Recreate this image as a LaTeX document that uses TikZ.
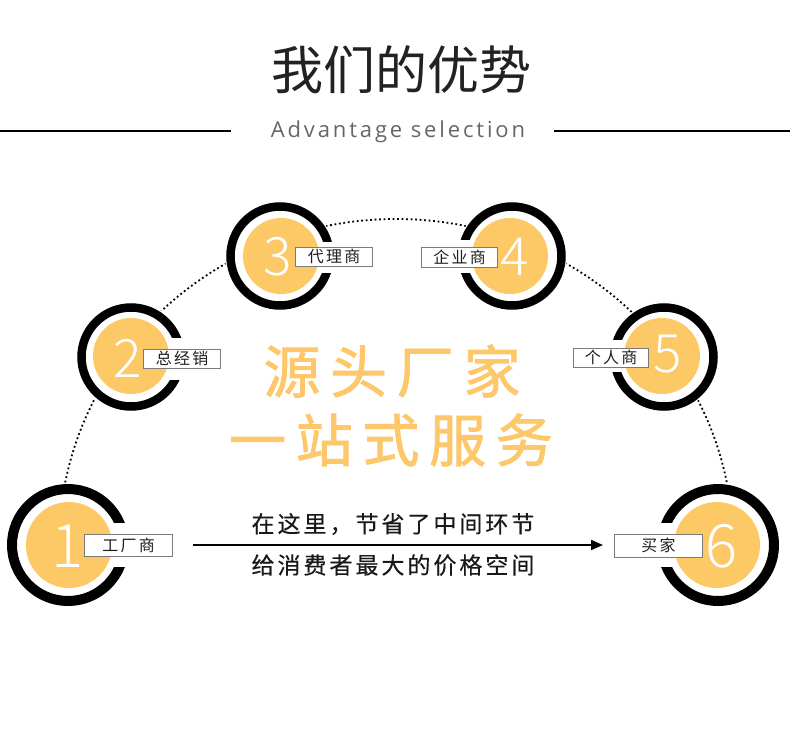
\documentclass[tikz,border=0pt]{standalone}
\usepackage{fontspec}
\usetikzlibrary{arrows.meta}
\setmainfont{Noto Sans CJK SC}
\newfontfamily\cjktitle{Noto Sans CJK SC}
\newfontfamily\cjkbig{Noto Sans CJK SC}[LetterSpace=17, FakeBold=1.5]
\newfontfamily\cjkmid{Noto Sans CJK SC}[LetterSpace=13, FakeBold=0.4]
\newfontfamily\cjklab{Noto Sans CJK SC}[LetterSpace=14]
\newfontfamily\latinsp{Open Sans}[LetterSpace=13]
\IfFontExistsTF{Noto Sans CJK SC Light}{\newfontfamily\digitfont{Noto Sans CJK SC Light}}{\newfontfamily\digitfont{Noto Sans CJK SC}}
\definecolor{ygold}{HTML}{FDC866}
\definecolor{otext}{HTML}{FDC76A}
\definecolor{ttl}{HTML}{222222}
\definecolor{subg}{HTML}{666666}
\definecolor{boxg}{HTML}{7A7A7A}
\tikzset{
  lab/.style={draw=boxg, line width=0.9pt, fill=white, inner sep=0pt, text=black!88,
    font=\cjklab\fontsize{16}{16}\selectfont},
  bignum/.style={text=white, anchor=base, inner sep=0pt, font=\digitfont\fontsize{60}{60}\selectfont},
  midnum/.style={text=white, anchor=base, inner sep=0pt, font=\digitfont\fontsize{53}{53}\selectfont},
  dotarc/.style={line width=1.8pt, dash pattern=on 1.8pt off 2.7pt},
}
\begin{document}
\begin{tikzpicture}[x=1pt, y=-1pt]
\useasboundingbox (0,0) rectangle (790,739);
\fill[white] (0,0) rectangle (790,739);

% title
\node[font=\cjktitle\fontsize{52}{52}\selectfont, text=ttl, inner sep=0pt] (title) at (401,70) {我们的优势};
\node[font=\latinsp\fontsize{22}{22}\selectfont, text=subg, anchor=base, inner sep=0pt] (sub) at (398,137) {Advantage selection};
\coordinate (hl1) at (0,131);
\coordinate (hl2) at (231,131);
\coordinate (hr1) at (554,131);
\coordinate (hr2) at (790,131);
\draw[line width=2pt] (hl1) -- (hl2);
\draw[line width=2pt] (hr1) -- (hr2);

% dotted arc
\draw[dotarc] (59,545) arc[start angle=180, end angle=360, x radius=337, y radius=326];

% centre text
\node[font=\cjkbig\fontsize{57}{57}\selectfont, text=otext, inner sep=0pt] (c1) at (392,371) {源头厂家};
\node[font=\cjkbig\fontsize{57}{57}\selectfont, text=otext, inner sep=0pt] (c2) at (391,440) {一站式服务};

% circle 1
\fill[white] (68,545) circle[radius=62];
\draw[line width=10pt] (68,545) circle[radius=56];
\fill[white] (68,523) rectangle (132,567);
\fill[ygold] (69,545) circle[radius=43];
\node[bignum] (n1) at (68,567) {1};
\node[lab, minimum width=88pt, minimum height=22pt] (l1) at (128,545) {\kern0.07em 工厂商};

% circle 2
\fill[white] (131,357) circle[radius=55];
\draw[line width=8.5pt] (131,357) circle[radius=49.5];
\fill[white] (131,338) rectangle (187,380);
\fill[ygold] (131,356) circle[radius=38];
\node[midnum] (n2) at (128,377) {2};
\node[lab, minimum width=77pt, minimum height=19pt] (l2) at (181.5,358.5) {\kern0.07em 总经销};

% circle 3
\fill[white] (280,256) circle[radius=55];
\draw[line width=8.5pt] (280,256) circle[radius=49.5];
\fill[white] (280,242) rectangle (336,273);
\fill[ygold] (281,256) circle[radius=38];
\node[midnum] (n3) at (278,275) {3};
\node[lab, minimum width=77pt, minimum height=19pt] (l3) at (333.5,256.5) {\kern0.07em 代理商};

% circle 4
\fill[white] (512,256) circle[radius=55];
\draw[line width=8.5pt] (512,256) circle[radius=49.5];
\fill[white] (456,240) rectangle (512,273);
\fill[ygold] (510,256) circle[radius=38];
\node[midnum] (n4) at (515,275) {4};
\node[lab, minimum width=76pt, minimum height=20pt] (l4) at (459,257) {\kern0.07em 企业商};

% circle 5
\fill[white] (664,357) circle[radius=55];
\draw[line width=8.5pt] (664,357) circle[radius=49.5];
\fill[white] (608,340) rectangle (664,372);
\fill[ygold] (662,356) circle[radius=38];
\node[midnum] (n5) at (668,372) {5};
\node[lab, minimum width=75pt, minimum height=19pt] (l5) at (610.5,357.5) {\kern0.07em 个人商};

% circle 6
\fill[white] (718,545) circle[radius=62];
\draw[line width=10pt] (718,545) circle[radius=56];
\fill[white] (654,523) rectangle (718,567);
\fill[ygold] (717,545) circle[radius=43];
\node[bignum] (n6) at (722,567) {6};
\node[lab, minimum width=88pt, minimum height=23pt] (l6) at (658,545.5) {\kern0.07em 买家};

% arrow and its texts
\coordinate (as) at (193,545);
\coordinate (ae) at (603,545);
\draw[line width=1.8pt, -{Triangle[length=12pt,width=10pt]}] (as) -- (ae);
\node[font=\cjkmid\fontsize{23}{23}\selectfont, text=black!90, inner sep=0pt] (t1) at (393,524) {在这里，节省了中间环节};
\node[font=\cjkmid\fontsize{23}{23}\selectfont, text=black!90, inner sep=0pt] (t2) at (393,565) {给消费者最大的价格空间};
\end{tikzpicture}
\end{document}
